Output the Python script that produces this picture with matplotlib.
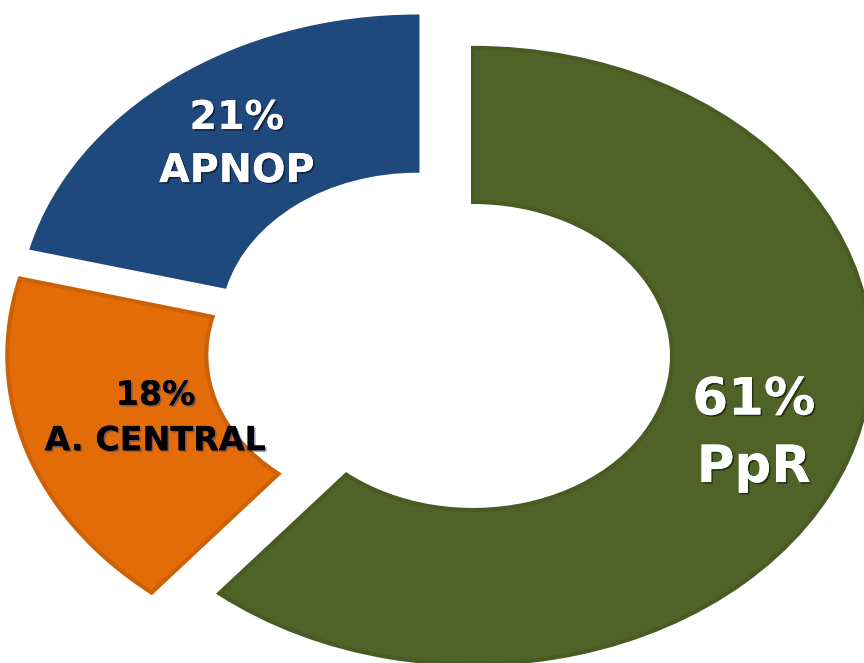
import matplotlib
matplotlib.use("Agg")
import matplotlib.pyplot as plt
import matplotlib.patheffects as pe
import numpy as np

# Data
categories = ["PpR", "A. CENTRAL", "APNOP"]
values = [61, 18, 21]
pct_labels = ["61%", "18%", "21%"]

colors = ["#4F6228", "#E36C09", "#1F497D"]
edge_colors = ["#485B22", "#CC6108", "#1F497D"]
text_colors = ["white", "black", "white"]
font_sizes = [37, 24, 28.5]
line_spacing = [1.45, 1.48, 1.42]
label_dist = [0.84, 0.75, 0.83]

plt.rcParams['font.family'] = ['DejaVu Sans']

fig = plt.figure(figsize=(8.64, 6.63), dpi=100)
ax = fig.add_axes([0, 0, 1, 1])

wedges, _ = ax.pie(values, startangle=90, counterclock=False,
                   colors=colors, explode=[0.09] * len(values), radius=1.0,
                   wedgeprops=dict(width=0.5, linewidth=3))
for w, ec in zip(wedges, edge_colors):
    w.set_edgecolor(ec)

for w, pl, cat, tc, fs, ls, d in zip(wedges, pct_labels, categories, text_colors,
                                     font_sizes, line_spacing, label_dist):
    th = np.deg2rad((w.theta1 + w.theta2) / 2)
    x, y = d * np.cos(th), d * np.sin(th)
    shadow_col = 'black' if tc == 'white' else '#1F3F8F'
    ax.text(x, y, f"{pl}\n{cat}", ha='center', va='center', color=tc,
            fontsize=fs, fontweight='bold', linespacing=ls,
            path_effects=[pe.withSimplePatchShadow(offset=(1.2, -1.2),
                                                   shadow_rgbFace=shadow_col,
                                                   alpha=0.5),
                          pe.Normal()])

ax.set_aspect('auto')
ax.set_xlim(-1.104, 1.067)
ax.set_ylim(-1.027, 1.125)
ax.axis('off')

fig.savefig("out.png", dpi=100, facecolor='white')
